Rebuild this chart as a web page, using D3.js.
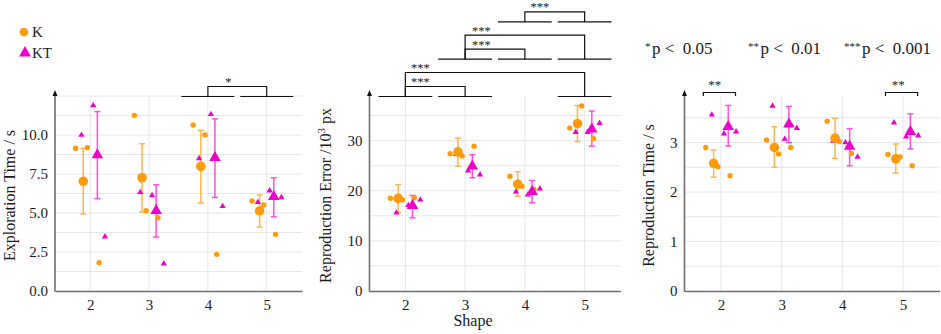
<!DOCTYPE html>
<html><head><meta charset="utf-8">
<script src="https://cdn.jsdelivr.net/npm/d3@7"></script>
<style>
body{margin:0;background:#fff}
svg{display:block}
svg text{font-family:"Liberation Serif","Times New Roman",serif !important;fill:#1a1a1a;white-space:pre}
</style>
</head><body>
<script>
// ---------------- DATA ----------------
const categories = [2, 3, 4, 5];
const groupNames = ["K", "KT"];
const xLabel = "Shape";

// Panel 1 : Exploration Time / s
const p1YTicks = [0, 2.5, 5, 7.5, 10];
const p1YTickLabels = ["0.0", "2.5", "5.0", "7.5", "10.0"];
const p1KPoints  = [[9.15, 9.19, 1.82], [11.26, 5.15, 4.70], [10.64, 10.00, 2.35], [5.77, 5.51, 3.63]];
const p1KMean    = [7.03, 7.26, 7.99, 5.13];
const p1KLow     = [4.94, 5.06, 5.64, 4.10];
const p1KHigh    = [9.15, 9.44, 10.30, 6.15];
const p1KTPoints = [[10.00, 11.90, 3.48], [6.33, 6.13, 1.75], [8.50, 11.33, 5.43], [5.69, 6.43, 6.00]];
const p1KTMean   = [8.72, 5.15, 8.55, 6.05];
const p1KTLow    = [5.92, 3.46, 6.00, 4.76];
const p1KTHigh   = [11.50, 6.81, 11.03, 7.26];
const p1BracketFrom = [4];
const p1BracketTo   = [5];
const p1BracketRow  = [0];
const p1BracketTier = [0];
const p1BracketText = ["*"];
const p1BracketTextAt = [4.35];

// Panel 2 : Reproduction Error / 10^3 px
const p2YTicks = [0, 10, 20, 30];
const p2YTickLabels = ["0", "10", "20", "30"];
const p2KPoints  = [[18.5, 18.2, 18.6], [27.4, 26.95, 28.9], [22.9, 20.9, 20.3], [32.5, 36.9, 30.4]];
const p2KMean    = [18.47, 27.75, 21.3, 33.4];
const p2KLow     = [15.6, 24.9, 18.9, 29.8];
const p2KHigh    = [21.2, 30.5, 23.8, 37.0];
const p2KTPoints = [[15.6, 17.1, 18.2], [27.3, 24.0, 23.2], [19.8, 19.2, 20.4], [31.7, 31.7, 33.5]];
const p2KTMean   = [17.0, 24.9, 19.8, 32.3];
const p2KTLow    = [14.6, 22.6, 17.6, 28.9];
const p2KTHigh   = [19.06, 27.2, 22.05, 35.9];
const p2BracketFrom = [2, 2, 3, 3, 4];
const p2BracketTo   = [3, 5, 4, 5, 5];
const p2BracketRow  = [0, 0, 1, 1, 2];
const p2BracketTier = [0, 1, 0, 1, 0];
const p2BracketText = ["***", "***", "***", "***", "***"];
const p2BracketTextAt = [2.25, 2.25, 3.27, 3.27, 4.25];

// Panel 3 : Reproduction Time / s
const p3YTicks = [0, 1, 2, 3];
const p3YTickLabels = ["0", "1", "2", "3"];
const p3KPoints  = [[2.90, 2.51, 2.33], [3.05, 2.77, 2.90], [3.43, 3.02, 2.78], [2.76, 2.71, 2.53]];
const p3KMean    = [2.58, 2.90, 3.09, 2.67];
const p3KLow     = [2.30, 2.50, 2.68, 2.38];
const p3KHigh    = [2.85, 3.32, 3.49, 2.97];
const p3KTPoints = [[3.56, 3.18, 3.22], [3.74, 3.07, 3.29], [3.03, 3.00, 2.71], [3.40, 3.12, 3.14]];
const p3KTMean   = [3.32, 3.37, 2.92, 3.22];
const p3KTLow    = [2.93, 3.00, 2.53, 2.87];
const p3KTHigh   = [3.75, 3.73, 3.28, 3.58];
const p3PairFrom = [1.71, 4.71];
const p3PairTo   = [2.24, 5.24];
const p3PairText = ["**", "**"];
const p3PairTextAt = [1.9, 4.92];

const pLegendStars = ["*", "**", "***"];
const pLegendText  = ["p <  0.05", "p <  0.01", "p <  0.001"];

// ---------------- STYLE / LAYOUT ----------------
const W = 941, H = 334;
const cK = "#ff9a0a", cKT = "#ee00cc";
const cKbar = "#ffb54a", cKTbar = "#ff4fdc";
const yBottom = 291, yTop = 96;
const kDotOff = [-0.25, -0.05, 0.15], ktDotOff = [-0.15, 0.05, 0.25];
const meanOff = 0.12;

const svg = d3.select("body").append("svg").attr("width", W).attr("height", H);

function buildPanel(o) {
  const g = svg.append("g");
  const x = d3.scaleLinear().domain([1.4, 5.6]).range([o.left, o.right]);
  const y = d3.scaleLinear().domain([0, o.yMax]).range([yBottom, yTop]);

  const gridVals = [];
  const step = o.ticks[1] - o.ticks[0];
  for (let v = step / 2; v <= o.yMax + 1e-9; v += step / 2) gridVals.push(v);
  g.selectAll(".hg").data(gridVals).enter().append("line")
    .attr("x1", o.left).attr("x2", o.right)
    .attr("y1", d => y(d)).attr("y2", d => y(d))
    .attr("stroke", "#e6e6e6").attr("stroke-width", 1);
  g.selectAll(".vg").data(categories).enter().append("line")
    .attr("x1", d => x(d)).attr("x2", d => x(d))
    .attr("y1", yBottom).attr("y2", yTop)
    .attr("stroke", "#e6e6e6").attr("stroke-width", 1);

  const xAxis = d3.axisBottom(x).tickValues(categories).tickSize(0).tickPadding(8).tickFormat(d3.format("d"));
  const gx = g.append("g").attr("transform", `translate(0,${yBottom})`).call(xAxis);
  gx.attr("font-family", null);
  gx.select(".domain").attr("stroke", "#6e6e6e").attr("stroke-width", 1.6);
  gx.selectAll("text").attr("font-size", 15).attr("fill", "#1a1a1a");

  const yAxis = d3.axisLeft(y).tickValues(o.ticks).tickSize(0).tickPadding(7)
    .tickFormat((d, i) => o.tickLabels[i]);
  const gy = g.append("g").attr("transform", `translate(${o.left},0)`).call(yAxis);
  gy.attr("font-family", null);
  gy.select(".domain").remove();
  gy.selectAll("text").attr("font-size", 15).attr("fill", "#1a1a1a");
  g.append("line").attr("x1", o.left).attr("x2", o.left).attr("y1", yBottom + 0.8).attr("y2", yTop - 1)
    .attr("stroke", "#6e6e6e").attr("stroke-width", 1.6);
  g.append("path").attr("d", `M${o.left - 2.5},${yTop} L${o.left},${yTop - 6} L${o.left + 2.5},${yTop} Z`)
    .attr("fill", "#111");

  const t = g.append("text")
    .attr("transform", `translate(${o.titleX},${(yBottom + yTop) / 2 + 2}) rotate(-90)`)
    .attr("text-anchor", "middle").attr("font-size", 16);
  o.title(t);

  const series = [
    {pts: o.kPts, mean: o.kMean, lo: o.kLo, hi: o.kHi, off: kDotOff, m: -meanOff, c: cK, cb: cKbar, tri: false},
    {pts: o.ktPts, mean: o.ktMean, lo: o.ktLo, hi: o.ktHi, off: ktDotOff, m: meanOff, c: cKT, cb: cKTbar, tri: true}
  ];
  series.forEach(s => {
    const ge = g.append("g").attr("stroke", s.cb).attr("stroke-width", 1.5).attr("fill", "none");
    categories.forEach((c, i) => {
      const xm = x(c + s.m);
      ge.append("line").attr("x1", xm).attr("x2", xm).attr("y1", y(s.lo[i])).attr("y2", y(s.hi[i]));
      ge.append("line").attr("x1", xm - 3).attr("x2", xm + 3).attr("y1", y(s.lo[i])).attr("y2", y(s.lo[i]));
      ge.append("line").attr("x1", xm - 3).attr("x2", xm + 3).attr("y1", y(s.hi[i])).attr("y2", y(s.hi[i]));
    });
  });
  series.forEach(s => {
    const pts = [];
    categories.forEach((c, i) => s.pts[i].forEach((v, j) => pts.push({x: c + s.off[j], v})));
    if (s.tri) {
      g.selectAll(null).data(pts).enter().append("path")
        .attr("d", d3.symbol(d3.symbolTriangle, 17))
        .attr("transform", d => `translate(${x(d.x)},${y(d.v)})`).attr("fill", s.c);
    } else {
      g.selectAll(null).data(pts).enter().append("circle")
        .attr("cx", d => x(d.x)).attr("cy", d => y(d.v)).attr("r", 2.7).attr("fill", s.c);
    }
  });
  series.forEach(s => {
    if (s.tri) {
      g.selectAll(null).data(categories).enter().append("path")
        .attr("d", d3.symbol(d3.symbolTriangle, 58))
        .attr("transform", (d, i) => `translate(${x(d + s.m)},${y(s.mean[i])})`).attr("fill", s.c);
    } else {
      g.selectAll(null).data(categories).enter().append("circle")
        .attr("cx", (d, i) => x(d + s.m)).attr("cy", (d, i) => y(s.mean[i])).attr("r", 4.8).attr("fill", s.c);
    }
  });

  if (o.bFrom) {
    const rowY = r => 96.5 - r * 37.3;
    const rows = d3.group(o.bFrom.map((f, i) => ({f, t: o.bTo[i], r: o.bRow[i]})), d => d.r);
    rows.forEach((arr, r) => {
      const cats = Array.from(new Set(arr.flatMap(d => [d.f, d.t])));
      cats.forEach(c => {
        g.append("line").attr("x1", x(c - 0.45)).attr("x2", x(c + 0.45))
          .attr("y1", rowY(r)).attr("y2", rowY(r)).attr("stroke", "#111").attr("stroke-width", 1.2);
      });
    });
    o.bFrom.forEach((f, i) => {
      const base = rowY(o.bRow[i]);
      const top = base - 10 - o.bTier[i] * 14;
      g.append("path").attr("d", `M${x(f)},${base} V${top} H${x(o.bTo[i])} V${base}`)
        .attr("fill", "none").attr("stroke", "#111").attr("stroke-width", 1.2);
      g.append("text").attr("x", x(o.bTextAt[i])).attr("y", top - 0.5)
        .attr("text-anchor", "middle").attr("font-size", 12.5).text(o.bText[i]);
    });
  }
  if (o.pFrom) {
    o.pFrom.forEach((f, i) => {
      const top = 92.5;
      g.append("path").attr("d", `M${x(f)},${top + 3.5} V${top} H${x(o.pTo[i])} V${top + 3.5}`)
        .attr("fill", "none").attr("stroke", "#111").attr("stroke-width", 1.2);
      g.append("text").attr("x", x(o.pTextAt[i])).attr("y", top - 3.5)
        .attr("text-anchor", "middle").attr("font-size", 13).text(o.pText[i]);
    });
  }
}

buildPanel({
  left: 55, right: 302, yMax: 12.5, ticks: p1YTicks, tickLabels: p1YTickLabels, titleX: 15,
  title: t => t.text("Exploration Time / s"),
  kPts: p1KPoints, kMean: p1KMean, kLo: p1KLow, kHi: p1KHigh,
  ktPts: p1KTPoints, ktMean: p1KTMean, ktLo: p1KTLow, ktHi: p1KTHigh,
  bFrom: p1BracketFrom, bTo: p1BracketTo, bRow: p1BracketRow, bTier: p1BracketTier,
  bText: p1BracketText, bTextAt: p1BracketTextAt
});
buildPanel({
  left: 369.5, right: 620.5, yMax: 38.9, ticks: p2YTicks, tickLabels: p2YTickLabels, titleX: 331,
  title: t => { t.append("tspan").text("Reproduction Error /10");
                t.append("tspan").attr("font-size", 11).attr("dy", -6).text("3");
                t.append("tspan").attr("dy", 6).text(" px"); },
  kPts: p2KPoints, kMean: p2KMean, kLo: p2KLow, kHi: p2KHigh,
  ktPts: p2KTPoints, ktMean: p2KTMean, ktLo: p2KTLow, ktHi: p2KTHigh,
  bFrom: p2BracketFrom, bTo: p2BracketTo, bRow: p2BracketRow, bTier: p2BracketTier,
  bText: p2BracketText, bTextAt: p2BracketTextAt
});
buildPanel({
  left: 684.5, right: 939.5, yMax: 3.94, ticks: p3YTicks, tickLabels: p3YTickLabels, titleX: 654,
  title: t => t.text("Reproduction Time / s"),
  kPts: p3KPoints, kMean: p3KMean, kLo: p3KLow, kHi: p3KHigh,
  ktPts: p3KTPoints, ktMean: p3KTMean, ktLo: p3KTLow, ktHi: p3KTHigh,
  pFrom: p3PairFrom, pTo: p3PairTo, pText: p3PairText, pTextAt: p3PairTextAt
});

svg.append("text").attr("x", 473).attr("y", 326).attr("text-anchor", "middle").attr("font-size", 16).text(xLabel);

const lg = svg.append("g");
lg.append("circle").attr("cx", 24).attr("cy", 32).attr("r", 4.3).attr("fill", cK);
lg.append("path").attr("d", d3.symbol(d3.symbolTriangle, 62)).attr("transform", "translate(25,53)").attr("fill", cKT);
lg.selectAll(null).data(groupNames).enter().append("text")
  .attr("x", 32).attr("y", (d, i) => 37 + i * 21).attr("font-size", 15).text(d => d);

const pxs = [645, 748, 844];
pLegendText.forEach((s, i) => {
  const t = svg.append("text").attr("x", pxs[i]).attr("y", 53.5).attr("font-size", 17);
  t.append("tspan").attr("font-size", 11).attr("dy", -4).text(pLegendStars[i]);
  t.append("tspan").attr("dy", 4).attr("dx", 1.5).text(s);
});
</script>
</body></html>
